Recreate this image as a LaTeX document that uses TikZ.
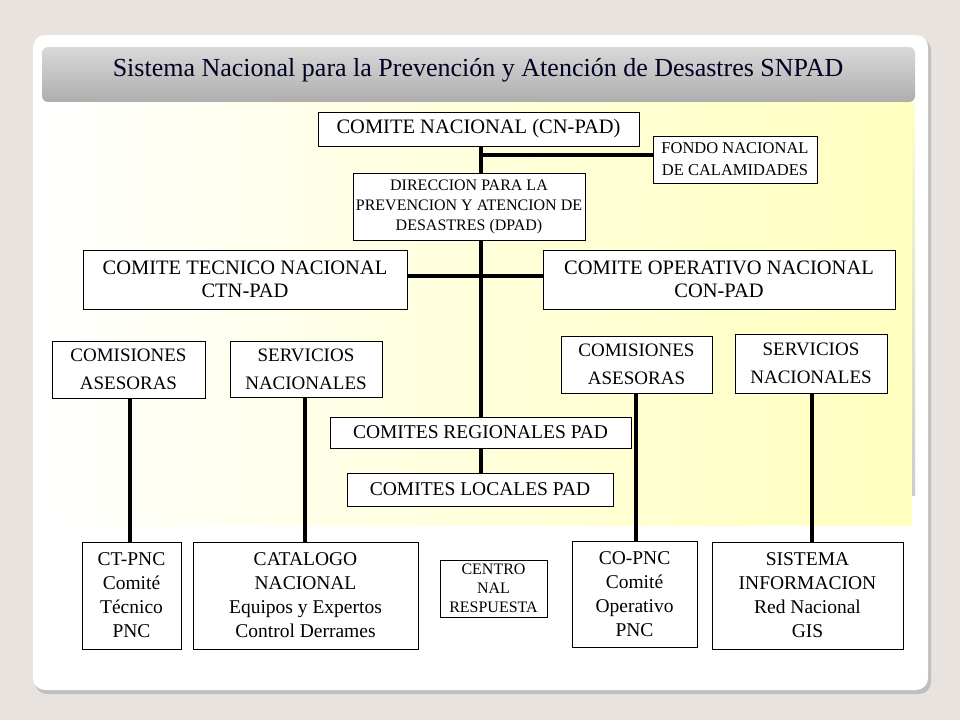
\documentclass[tikz,border=0pt]{standalone}
\usepackage{fontspec}
\setmainfont{Liberation Serif}
\begin{document}
\begin{tikzpicture}[x=1pt,y=-1pt,
  bx/.style={draw=black,line width=1pt,fill=white,align=center,inner sep=0pt},
  ln/.style={line width=3.5pt}]
\fill[gray!15!white!92!brown] (0,0) rectangle (960,720);
\useasboundingbox (0,0) rectangle (960,720);
\fill[black!25,rounded corners=12pt] (35,38) rectangle (931,694);
\fill[white,rounded corners=12pt] (33,35) rectangle (928,690);
\shade[top color=black!15,bottom color=black!32,rounded corners=6pt] (42,47) rectangle (915,102);
\shade[left color=white,right color=yellow!25,middle color=yellow!14] (42,102) rectangle (912,525);
\shade[top color=yellow!22,bottom color=black!20] (912,102) rectangle (915,495);
\node[font=\fontsize{26}{30}\selectfont,text=black!78!blue!60!black] (title) at (478,70) {Sistema Nacional para la Prevención y Atención de Desastres SNPAD};
\newcommand{\bxn}[6]{\node[bx,minimum width=#4-#2,minimum height=#5-#3,font=#6] (#1) at ({(#2+#4)/2},{(#3+#5)/2})}
\def\fA{\fontsize{20.5}{23}\selectfont}
\bxn{cn}{318}{112}{639}{146}{\fA}{COMITE NACIONAL (CN-PAD)};
\bxn{fondo}{653}{136}{817}{183}{\fontsize{16.5}{22}\selectfont}{FONDO NACIONAL\\DE CALAMIDADES};
\bxn{dpad}{353}{173}{585}{240}{\fontsize{16}{20}\selectfont}{DIRECCION PARA LA\\PREVENCION Y ATENCION DE\\DESASTRES (DPAD)};
\bxn{ctn}{83}{250}{407}{309}{\fA}{COMITE TECNICO NACIONAL\\CTN-PAD};
\bxn{con}{543}{250}{895}{309}{\fA}{COMITE OPERATIVO NACIONAL\\CON-PAD};
\def\fC{\fontsize{19}{28}\selectfont}
\bxn{cal}{52}{341}{205}{398}{\fC}{COMISIONES\\ASESORAS};
\bxn{snl}{230}{341}{382}{397}{\fC}{SERVICIOS\\NACIONALES};
\bxn{car}{561}{336}{712}{393}{\fC}{COMISIONES\\ASESORAS};
\bxn{snr}{735}{334}{887}{393}{\fC}{SERVICIOS\\NACIONALES};
\bxn{reg}{330}{417}{631}{448}{\fontsize{19.5}{24}\selectfont}{COMITES REGIONALES PAD};
\bxn{loc}{347}{473}{613}{506}{\fontsize{19.5}{24}\selectfont}{COMITES LOCALES PAD};
\def\fD{\fontsize{19.5}{24}\selectfont}
\bxn{ct}{82}{542}{181}{649}{\fD}{CT-PNC\\Comité\\Técnico\\PNC};
\bxn{cat}{193}{542}{418}{649}{\fD}{CATALOGO\\NACIONAL\\Equipos y Expertos\\Control Derrames};
\bxn{cen}{440}{560}{547}{617}{\fontsize{16}{19}\selectfont}{CENTRO\\NAL\\RESPUESTA};
\bxn{co}{572}{541}{697}{647}{\fD}{CO-PNC\\Comité\\Operativo\\PNC};
\bxn{sis}{712}{542}{903}{649}{\fD}{SISTEMA\\INFORMACION\\Red Nacional\\GIS};
\coordinate (j1) at (481,155);
\coordinate (j2) at (481,276);
\coordinate (sp) at (481,0);
\draw[ln] (cn.south -| sp) -- (dpad.north -| sp);
\draw[ln] (j1) -- (fondo.west |- j1);
\draw[ln] (dpad.south -| sp) -- (reg.north -| sp);
\draw[ln] (ctn.east |- j2) -- (con.west |- j2);
\draw[ln] (reg.south -| sp) -- (loc.north -| sp);
\draw[ln] (cal.south -| 130,0) -- (ct.north -| 130,0);
\draw[ln] (snl.south -| 305,0) -- (cat.north -| 305,0);
\draw[ln] (car.south -| 636,0) -- (co.north -| 636,0);
\draw[ln] (snr.south -| 812,0) -- (sis.north -| 812,0);
\end{tikzpicture}
\end{document}
